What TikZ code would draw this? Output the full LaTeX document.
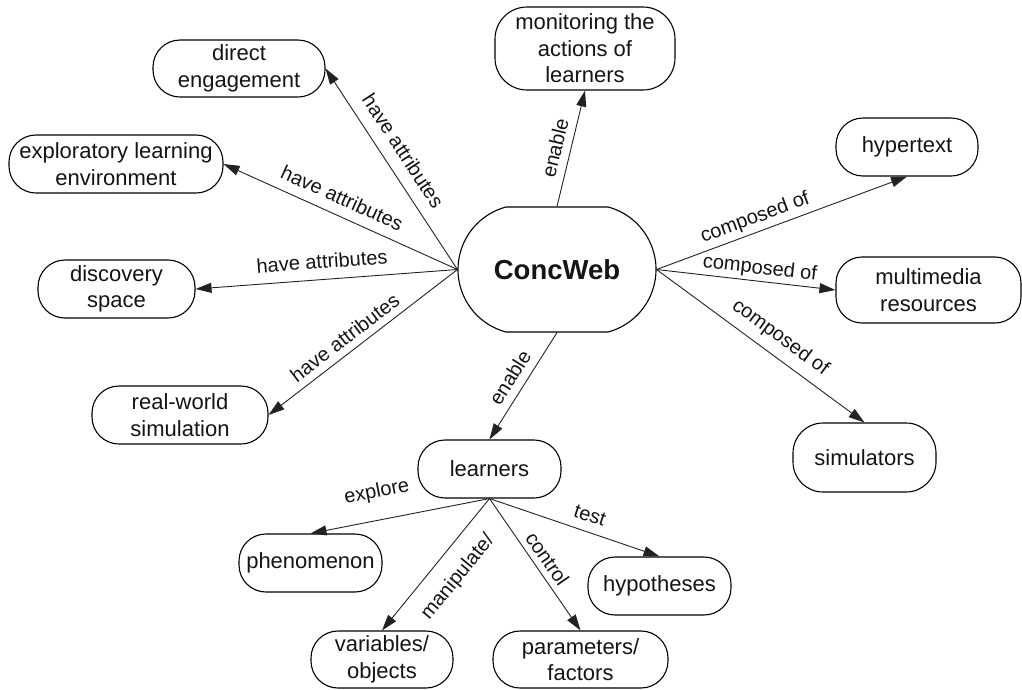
\documentclass[tikz,border=0pt]{standalone}
\usepackage{fontspec}
\setmainfont{Liberation Sans}
\usetikzlibrary{arrows.meta,shapes.misc}
\definecolor{ink}{HTML}{141414}
\definecolor{edgecol}{HTML}{222222}
\begin{document}
\begin{tikzpicture}[x=1pt,y=-1pt,
  concept/.style={draw=black, line width=1.1pt, rounded corners=27pt, inner sep=0pt,
    align=center, font=\fontsize{22}{26.5}\selectfont, text=ink},
  hub/.style={draw=black, line width=1.1pt, rounded rectangle, rounded rectangle arc length=150,
    inner sep=0pt, minimum width=198pt, minimum height=125pt,
    font=\fontsize{27.5}{33}\selectfont\bfseries, text=ink},
  link/.style={draw=edgecol, line width=0.9pt, -{Triangle[length=16pt,width=10pt]}},
  lbl/.style={font=\fontsize{20}{24}\selectfont, text=ink, sloped},
]
\useasboundingbox (0,0) rectangle (1022,689);

\node[concept, minimum width=172pt, minimum height=57pt] (de) at (239,68.5) {direct\\engagement};
\node[concept, minimum width=214pt, minimum height=58pt] (ele) at (116,164) {exploratory learning\\environment};
\node[concept, minimum width=157pt, minimum height=58pt] (ds) at (116.5,289) {discovery\\space};
\node[concept, minimum width=176pt, minimum height=58pt] (rw) at (180,415) {real-world\\simulation};
\node[hub] (cw) at (557,269.5) {\makebox[0pt]{ConcWeb}};
\node[concept, minimum width=180pt, minimum height=83pt, rounded corners=32pt] (mon) at (585,48.5) {monitoring the\\actions of\\learners};
\node[concept, minimum width=142pt, minimum height=58pt] (ht) at (907,147) {hypertext};
\node[concept, minimum width=185pt, minimum height=66pt, rounded corners=26pt] (mm) at (928.5,290) {multimedia\\resources};
\node[concept, minimum width=143pt, minimum height=69pt, rounded corners=30pt] (sim) at (864.5,457.5) {simulators};
\node[concept, minimum width=143pt, minimum height=58pt] (le) at (489.5,469) {learners};
\node[concept, minimum width=143pt, minimum height=58pt] (ph) at (310.5,563) {phenomenon};
\node[concept, minimum width=142pt, minimum height=57pt] (vo) at (382,659.5) {variables/\\objects};
\node[concept, minimum width=143pt, minimum height=58pt] (hy) at (659.5,586) {hypotheses};
\node[concept, minimum width=175pt, minimum height=57pt] (pf) at (580.5,659.5) {parameters/\\factors};

\draw[link] (cw.west) -- node[lbl, above, pos=.536, inner sep=12pt] {have attributes} (de.east);
\draw[link] (cw.west) -- node[lbl, above, pos=.524, inner sep=10pt] {have attributes} (ele.east);
\draw[link] (cw.west) -- node[lbl, above, pos=.512, inner sep=10.5pt] {have attributes} (ds.east);
\draw[link] (cw.west) -- node[lbl, above, pos=.549, inner sep=7pt] {have attributes} (rw.east);
\draw[link] (cw.north) -- node[lbl, above, pos=.474, inner sep=8pt] {enable} (mon.south);
\draw[link] (cw.east) -- node[lbl, above, pos=.413, inner sep=4pt] {composed of} (ht.south);
\draw[link] (cw.east) -- node[lbl, above, pos=.57, inner sep=2.6pt] {composed of} (mm.west);
\draw[link] (cw.east) -- node[lbl, above, pos=.543, inner sep=8.6pt] {composed of} (sim.north);
\draw[link] (cw.south) -- node[lbl, above, pos=.5, inner sep=8pt] {enable} (le.north);
\draw[link] (le.south) -- node[lbl, above, pos=.6, inner sep=17.6pt] {explore} (ph.north);
\draw[link] (le.south) -- node[lbl, below, pos=.475, inner sep=15.6pt] {manipulate/} (vo.north);
\draw[link] (le.south) -- node[lbl, above, pos=.515, inner sep=5.7pt] {control} (pf.north);
\draw[link] (le.south) -- node[lbl, above, pos=.56, inner sep=9.3pt] {test} (hy.north);
\end{tikzpicture}
\end{document}
